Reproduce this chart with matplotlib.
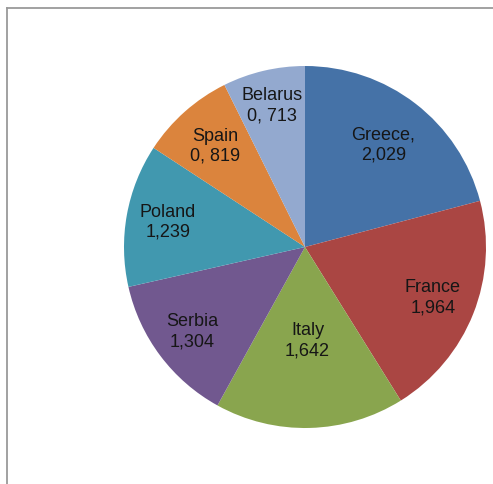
import matplotlib
matplotlib.use("Agg")
import matplotlib.pyplot as plt
import numpy as np
from matplotlib.lines import Line2D

# data
countries = ["Greece", "France", "Italy", "Serbia", "Poland", "Spain", "Belarus"]
values = [2.029, 1.964, 1.642, 1.304, 1.239, 0.819, 0.713]
labels = ["Greece,\n2,029", "France\n1,964", "Italy\n1,642", "Serbia\n1,304",
          "Poland\n1,239", "Spain\n0, 819", "Belarus\n0, 713"]

# excel 2007 style palette
colors = ["#4572A7", "#AA4643", "#89A54E", "#71588F", "#4198AF", "#DB843D", "#93A9CF"]
# label distance from centre, relative to radius (best-fit look)
label_r = [0.71, 0.76, 0.52, 0.78, 0.77, 0.745, 0.80]

plt.rcParams['font.family'] = ['Liberation Sans', 'DejaVu Sans']

W, H = 493, 484
fig = plt.figure(figsize=(W / 100, H / 100), dpi=100)

# pie centre (305, 247), radius 181 px
cx, cy, r = 305, 247, 181
ax = fig.add_axes([(cx - r) / W, (H - cy - r) / H, 2 * r / W, 2 * r / H])

wedges, _ = ax.pie(values, colors=colors, startangle=90, counterclock=False,
                   wedgeprops=dict(linewidth=0), radius=1)

for w, lab, d in zip(wedges, labels, label_r):
    ang = np.deg2rad((w.theta1 + w.theta2) / 2)
    ax.text(d * np.cos(ang), d * np.sin(ang), lab, ha='center', va='center',
            fontsize=13, color='#161616', linespacing=1.25)

ax.set_xlim(-1, 1)
ax.set_ylim(-1, 1)
ax.set_aspect('equal')
ax.axis('off')

# chart frame (top and left edges visible)
fig.add_artist(Line2D([6.5 / W, 1.0], [1 - 7.5 / H, 1 - 7.5 / H], transform=fig.transFigure,
                      color='#9a9a9a', lw=1.3))
fig.add_artist(Line2D([6.5 / W, 6.5 / W], [0.0, 1 - 7.5 / H], transform=fig.transFigure,
                      color='#9a9a9a', lw=1.3))

fig.savefig("out.png", dpi=100)
